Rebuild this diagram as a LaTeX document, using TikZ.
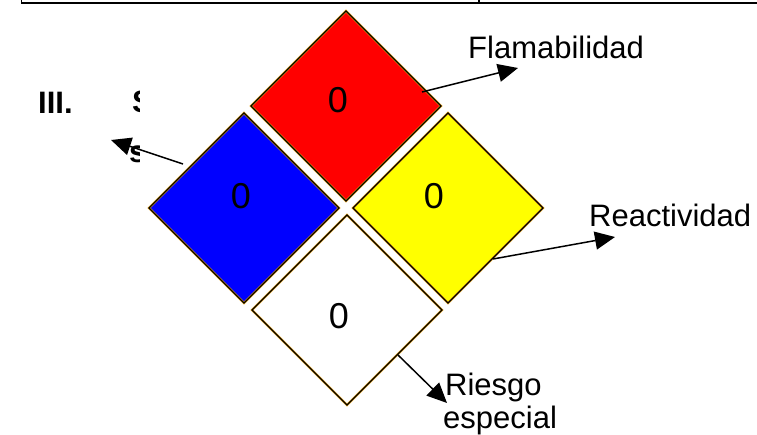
\documentclass[tikz,border=0pt]{standalone}
\usepackage{fontspec}
\setmainfont{Liberation Sans}
\usetikzlibrary{arrows.meta}

\definecolor{firered}{RGB}{255,0,0}
\definecolor{healthblue}{RGB}{0,0,255}
\definecolor{reactyellow}{RGB}{255,255,0}
\definecolor{rimorange}{RGB}{245,170,20}

\tikzset{
  rim/.style={draw=rimorange, line width=2.4pt, line join=miter},
  edge/.style={draw=black, line width=1.2pt, line join=miter},
  digit/.style={font=\fontsize{36}{36}\selectfont, inner sep=0pt},
  label/.style={font=\fontsize{31}{34}\selectfont, inner sep=0pt, anchor=base west, align=left},
  heading/.style={font=\fontsize{31}{34}\selectfont\bfseries, inner sep=0pt, anchor=base west},
  pointer/.style={draw=black, line width=1.5pt, -{Triangle[length=20pt,width=18pt]}},
}

\begin{document}
\begin{tikzpicture}[x=1pt,y=-1pt]
  \useasboundingbox (0,0) rectangle (757,435);
  \fill[white] (0,0) rectangle (757,435);

  % table border at the top of the page
  \draw[line width=1.8pt, line join=miter] (21.5,0) -- (21.5,3.4) -- (757,3.4);
  \draw[line width=1.8pt] (479,0) -- (479,3.4);

  % section heading, partly hidden behind the sign
  \node[heading] (sec) at (38,114) {III.};
  \node[heading] (secS) at (132,113) {S};
  \node[heading] (secs) at (129,163) {s};

  % white background of the hazard sign
  \fill[white] (140,6) rectangle (550,412);

  % hazard diamond: four coloured squares
  \coordinate (rc) at (346,106);
  \coordinate (bc) at (244,208);
  \coordinate (yc) at (448,208);
  \coordinate (wc) at (347,310);

  \foreach \c/\f in {rc/firered, bc/healthblue, yc/reactyellow, wc/white}{
    \path[fill=\f] ([yshift=-95pt]\c) -- ([xshift=95pt]\c) -- ([yshift=95pt]\c) -- ([xshift=-95pt]\c) -- cycle;
    \path[rim] ([yshift=-95pt]\c) -- ([xshift=95pt]\c) -- ([yshift=95pt]\c) -- ([xshift=-95pt]\c) -- cycle;
    \path[edge] ([yshift=-95pt]\c) -- ([xshift=95pt]\c) -- ([yshift=95pt]\c) -- ([xshift=-95pt]\c) -- cycle;
  }

  \node[digit] (rd) at (338,100) {0};
  \node[digit] (bd) at (241,196) {0};
  \node[digit] (yd) at (434,196) {0};
  \node[digit] (wd) at (339,316) {0};

  % labels
  \node[label] (flam) at (468,59) {Flamabilidad};
  \node[label] (reac) at (589,227) {Reactividad};
  \node[label] (ries) at (445,395) {Riesgo};
  \node[label] (espe) at (443,428) {especial};

  % pointers from the squares to the labels
  \coordinate (fA) at (422,92);   \coordinate (fB) at (518,68);
  \coordinate (rA) at (493,259);  \coordinate (rB) at (615,237);
  \coordinate (sA) at (398,355);  \coordinate (sB) at (447,403);
  \coordinate (hA) at (183,164);  \coordinate (hB) at (111,140);
  \draw[pointer] (fA) -- (fB);
  \draw[pointer] (rA) -- (rB);
  \draw[pointer] (sA) -- (sB);
  \draw[pointer] (hA) -- (hB);
\end{tikzpicture}
\end{document}
